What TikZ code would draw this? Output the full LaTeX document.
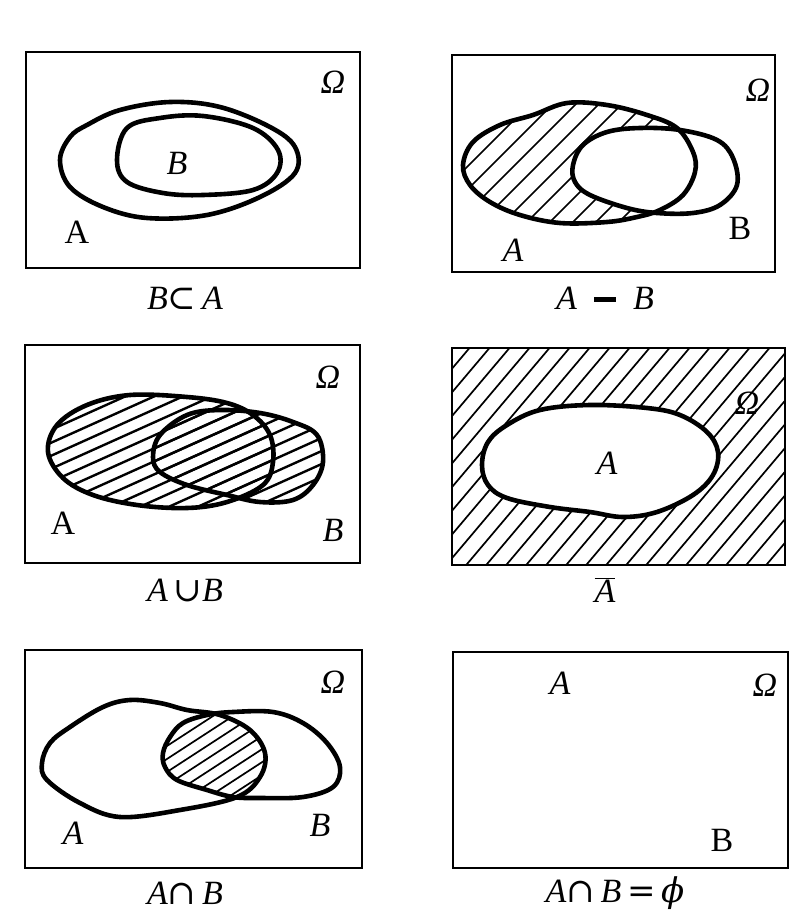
\documentclass[tikz,border=0pt]{standalone}
\usepackage{fontspec}
\setmainfont{Liberation Serif}
\newfontfamily\symfont{DejaVu Serif}
\begin{document}
\begin{tikzpicture}[x=1pt,y=-1pt,
  frame/.style={line width=2.6pt},
  curve/.style={line width=4.6pt, line join=round},
  hatchline/.style={line width=1.7pt},
  lbl/.style={font=\fontsize{34}{34}\selectfont, inner sep=0pt},
  sm/.style={smooth cycle, tension=0.6}
]
\useasboundingbox (0,0) rectangle (798,911);
\def\shpOneA{plot[sm] coordinates {(60,160) (70,137) (87,125) (120,110) (170,102) (220,107) (270,127) (295,147) (295,173) (260,197) (207,215) (147,218) (103,207) (70,187)}}
\def\shpOneB{plot[sm] coordinates {(117,160) (127,128) (160,118) (203,116) (253,128) (278,150) (277,173) (253,190) (203,195) (163,193) (127,182)}}
\def\shpTwoA{plot[sm] coordinates {(463,165) (473,142) (500,125) (533,115) (567,103) (607,105) (647,115) (677,128) (693,152) (695,172) (683,195) (660,210) (637,217) (607,222) (560,223) (520,215) (490,202) (470,185)}}
\def\shpTwoB{plot[sm] coordinates {(573,165) (583,145) (607,132) (640,128) (680,130) (717,140) (733,158) (737,185) (720,205) (693,213) (657,213) (627,208) (590,195) (575,182)}}
\def\shpThrA{plot[sm] coordinates {(48,452) (57,425) (87,405) (130,395) (187,397) (227,403) (253,415) (270,435) (273,462) (263,485) (227,502) (187,508) (137,505) (93,495) (63,478)}}
\def\shpThrB{plot[sm] coordinates {(153,457) (160,435) (187,415) (220,410) (260,413) (293,422) (317,435) (323,462) (313,485) (293,500) (260,502) (227,495) (187,485) (160,472)}}
\def\shpFouA{plot[sm] coordinates {(482,465) (488,442) (507,425) (540,410) (590,405) (647,408) (680,415) (707,432) (718,452) (713,475) (693,495) (657,512) (623,517) (590,512) (550,507) (507,498) (488,485)}}
\def\shpFivA{plot[sm] coordinates {(42,763) (50,743) (70,727) (103,707) (130,700) (160,703) (187,710) (220,715) (250,730) (265,753) (260,777) (237,797) (180,810) (120,817) (80,803) (47,780)}}
\def\shpFivB{plot[sm] coordinates {(163,753) (170,737) (183,723) (207,715) (233,712) (273,712) (303,723) (327,743) (340,767) (333,787) (303,797) (260,798) (233,797) (207,790) (177,780) (165,767)}}

% ---------- Panel 1: B subset A
\draw[frame] (26,52) rectangle (360,268);
\draw[curve] \shpOneA;
\draw[curve] \shpOneB;
\node[lbl] (o1) at (333,82) {\textit{Ω}};
\node[lbl] (b1) at (177,163) {\textit{B}};
\node[lbl] (a1) at (77,232) {A};
\node[lbl] (c1) at (185,298) {\textit{B}{\symfont ⊂}\,\textit{A}};

% ---------- Panel 2: A - B
\draw[frame] (452,55) rectangle (775,272);
\begin{scope}
  \clip \shpTwoA;
  \foreach \k in {0,...,18} \draw[hatchline] ({330+\k*23},235) -- ++(140,-140);
\end{scope}
\fill[white] \shpTwoB;
\draw[curve] \shpTwoA;
\draw[curve] \shpTwoB;
\node[lbl] (o2) at (758,90) {\textit{Ω}};
\node[lbl] (b2) at (740,228) {B};
\node[lbl] (a2) at (513,250) {\textit{A}};
\node[lbl] (c2) at (605,298) {\textit{A}\ \ \rule[0.22em]{0.65em}{0.14em}\ \ \textit{B}};

% ---------- Panel 3: A union B
\draw[frame] (25,345) rectangle (360,563);
\begin{scope}
  \clip \shpThrA;
  \foreach \k in {0,...,21} \draw[hatchline, line width=2.4pt] (35,{385+\k*13}) -- ++(300,-135);
\end{scope}
\begin{scope}
  \clip \shpThrB;
  \foreach \k in {0,...,21} \draw[hatchline, line width=2.4pt] (35,{385+\k*13}) -- ++(300,-135);
\end{scope}
\draw[curve] \shpThrA;
\draw[curve] \shpThrB;
\node[lbl] (o3) at (328,377) {\textit{Ω}};
\node[lbl] (a3) at (63,523) {A};
\node[lbl] (b3) at (333,530) {\textit{B}};
\node[lbl] (c3) at (185,590) {\textit{A}\,{\symfont ∪}\textit{B}};

% ---------- Panel 4: complement of A
\begin{scope}
  \clip (452,348) rectangle (785,565);
  \foreach \k in {0,...,28} \draw[hatchline] ({262+\k*20},570) -- ++(190,-225);
\end{scope}
\fill[white] \shpFouA;
\draw[frame] (452,348) rectangle (785,565);
\draw[curve] \shpFouA;
\node[lbl] (o4) at (747,403) {\textit{Ω}};
\node[lbl] (a4) at (607,463) {\textit{A}};
\node[lbl] (c4) at (605,590) {$\overline{\mbox{\textit{A}}}$};

% ---------- Panel 5: A intersect B
\draw[frame] (25,650) rectangle (362,868);
\begin{scope}
  \clip \shpFivA;
  \clip \shpFivB;
  \foreach \k in {0,...,16} \draw[hatchline] (150,{705+\k*13}) -- ++(140,-91);
\end{scope}
\draw[curve] \shpFivA;
\draw[curve] \shpFivB;
\node[lbl] (o5) at (333,682) {\textit{Ω}};
\node[lbl] (a5) at (73,833) {\textit{A}};
\node[lbl] (b5) at (320,825) {\textit{B}};
\node[lbl] (c5) at (185,893) {\textit{A}{\symfont ∩}\,\textit{B}};

% ---------- Panel 6: disjoint
\draw[frame] (453,652) rectangle (788,868);
\node[lbl] (a6) at (560,683) {\textit{A}};
\node[lbl] (o6) at (765,685) {\textit{Ω}};
\node[lbl] (b6) at (722,840) {B};
\node[lbl] (c6) at (615,893) {\textit{A}{\symfont ∩}\,\textit{B}\,{\symfont =}\,{\symfont\itshape ϕ}};
\end{tikzpicture}
\end{document}
